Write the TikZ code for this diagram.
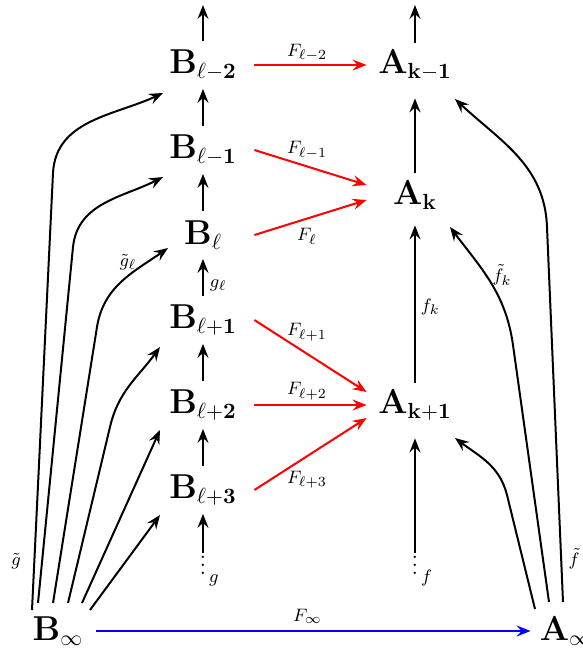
\documentclass[tikz,border=0pt]{standalone}
\usepackage{amsmath,amssymb}
\usetikzlibrary{arrows.meta}
\begin{document}
\begin{tikzpicture}[x=0.5pt,y=-0.5pt,
  bn/.style={font=\fontsize{16}{18}\selectfont, minimum width=51pt, minimum height=23.5pt, inner sep=0pt},
  an/.style={font=\fontsize{16}{18}\selectfont, minimum width=48pt, minimum height=22pt, inner sep=0pt},
  infn/.style={font=\fontsize{16}{18}\selectfont, minimum width=38pt, inner sep=0pt},
  dotn/.style={inner sep=0pt, anchor=south, font=\large},
  lab/.style={font=\fontsize{9.5}{11}\selectfont, inner sep=0pt},
  arr/.style={-{Stealth[length=7pt,width=5.5pt,inset=2.5pt]}, line width=1pt},
  redarr/.style={arr, draw=red, fill=red},
  bluearr/.style={arr, draw=blue, fill=blue},
]
\useasboundingbox (0,0) rectangle (583,650);

% B column
\node[bn] (Bm2) at (203,65) {$\mathbf{B_{\ell-2}}$};
\node[bn] (Bm1) at (203,150) {$\mathbf{B_{\ell-1}}$};
\node[bn] (B0)  at (203,235) {$\mathbf{B_{\ell}}$};
\node[bn] (Bp1) at (203,320) {$\mathbf{B_{\ell+1}}$};
\node[bn] (Bp2) at (203,405) {$\mathbf{B_{\ell+2}}$};
\node[bn] (Bp3) at (203,490) {$\mathbf{B_{\ell+3}}$};
\node[dotn] (Bdots) at (203,575) {$\vdots$};
\node[lab, anchor=base west] (glab) at ([xshift=1pt,yshift=-3.5pt]Bdots.south east) {$g$};

% A column
\node[an] (Akm1) at (415,65) {$\mathbf{A_{k-1}}$};
\node[an] (Ak)   at (415,195) {$\mathbf{A_{k}}$};
\node[an] (Akp1) at (415,405) {$\mathbf{A_{k+1}}$};
\node[dotn] (Adots) at (415,575) {$\vdots$};
\node[lab, anchor=base west] (flab) at ([xshift=1pt,yshift=-3.5pt]Adots.south east) {$f$};

% infinity nodes
\node[infn] (Binf) at (58,631) {$\mathbf{B_\infty}$};
\node[infn, minimum width=35pt] (Ainf) at (566,631) {$\mathbf{A_\infty}$};

% free ends
\coordinate (Btop) at (203,5);
\coordinate (Atop) at (415,5);

% vertical B arrows
\draw[arr] (Bm2.north) -- (Btop);
\draw[arr] (Bm1) -- (Bm2);
\draw[arr] (B0) -- (Bm1);
\draw[arr] (Bp1) -- node[lab, anchor=west, pos=.3, xshift=3pt] {$g_\ell$} (B0);
\draw[arr] (Bp2) -- (Bp1);
\draw[arr] (Bp3) -- (Bp2);
\draw[arr] ([yshift=11pt]Bdots.south) -- (Bp3);

% vertical A arrows
\draw[arr] (Akm1.north) -- (Atop);
\draw[arr, shorten >=5.5pt] (Ak) -- (Akm1);
\draw[arr, shorten >=4pt] (Akp1) -- node[lab, anchor=west, pos=.46, xshift=2.5pt] {$f_k$} (Ak);
\draw[arr, shorten >=5.5pt] ([yshift=11pt]Adots.south) -- (Akp1);

% red arrows
\draw[redarr] (Bm2) -- node[lab, xshift=-1.75pt, yshift=6.25pt] {$F_{\ell-2}$} (Akm1);
\draw[redarr] (Bm1.east) -- node[lab, xshift=-1.75pt, yshift=8.75pt] {$F_{\ell-1}$} ([yshift=5pt]Ak.west);
\draw[redarr] (B0.east) -- node[lab, xshift=-1.75pt, yshift=-9.5pt] {$F_{\ell}$} ([yshift=-2.5pt]Ak.west);
\draw[redarr] (Bp1.east) -- node[lab, xshift=-1.75pt, yshift=12pt] {$F_{\ell+1}$} ([yshift=6.5pt]Akp1.west);
\draw[redarr] (Bp2) -- node[lab, xshift=-1.75pt, yshift=7pt] {$F_{\ell+2}$} (Akp1);
\draw[redarr] (Bp3.east) -- node[lab, xshift=-1.75pt, yshift=-12.75pt] {$F_{\ell+3}$} ([yshift=-6.5pt]Akp1.west);

% blue arrow
\draw[bluearr] (Binf) -- node[lab, xshift=-3pt, yshift=7.5pt] {$F_\infty$} (Ainf);

% left curves
\coordinate (k1) at (53,173);
\coordinate (k2) at (73,247);
\coordinate (k3) at (97,327);
\coordinate (k4) at (110,427);
\draw[arr] ([xshift=-13pt,yshift=10.5pt]Binf.center) -- (k1) to[out=87,in=205] ([xshift=-20pt,yshift=-14pt]Bm2.center);
\draw[arr] ([xshift=-10pt,yshift=14pt]Binf.center) -- (k2) to[out=84,in=207] ([xshift=-20pt,yshift=-13.5pt]Bm1.center);
\draw[arr] ([xshift=-2.5pt,yshift=14pt]Binf.center) -- (k3) to[out=81,in=215] ([xshift=-17.5pt,yshift=-6.5pt]B0.center);
\draw[arr] ([xshift=5pt,yshift=14pt]Binf.center) -- (k4) to[out=77,in=234] ([xshift=-21.5pt,yshift=-13.5pt]Bp1.center);
\draw[arr] ([xshift=12pt,yshift=14pt]Binf.center) -- ([xshift=-21.5pt,yshift=-12.5pt]Bp2.center);
\draw[arr] ([xshift=16pt,yshift=10.5pt]Binf.center) -- ([xshift=-21.5pt,yshift=-12.5pt]Bp3.center);
\node[lab] (gtl) at (16,561) {$\tilde g$};
\node[lab] (gtlell) at (128,262) {$\tilde g_\ell$};

% right curves
\coordinate (q1) at (547,227);
\coordinate (q2) at (513,345);
\coordinate (q3) at (507,495);
\draw[arr] ([xshift=-1.5pt,yshift=14.5pt]Ainf.center) -- (q1) to[out=92,in=317] ([xshift=20pt,yshift=-17pt]Akm1.center);
\draw[arr] ([xshift=-8.5pt,yshift=14.5pt]Ainf.center) -- (q2) to[out=98,in=307] ([xshift=17.5pt,yshift=-16pt]Ak.center);
\draw[arr] ([xshift=-15.5pt,yshift=11pt]Ainf.center) -- (q3) to[out=104,in=323] ([xshift=20pt,yshift=-16.5pt]Akp1.center);
\node[lab] (ftl) at (574,559) {$\tilde f$};
\node[lab] (ftlk) at (502,275) {$\tilde f_k$};
\end{tikzpicture}
\end{document}
